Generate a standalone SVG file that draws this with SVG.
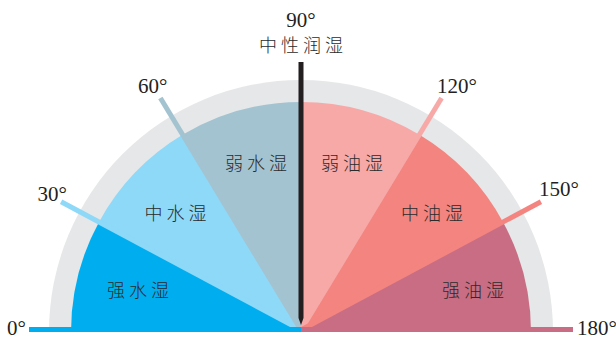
<svg xmlns="http://www.w3.org/2000/svg" width="616" height="341" viewBox="0 0 616 341">
<style>
.deg{font-family:"Liberation Serif","Times New Roman",serif;font-size:21px;fill:#231f20}
.cn{font-family:"Noto Sans CJK SC","Noto Sans",sans-serif;font-size:18px;font-weight:300;fill:#2b2b2b;letter-spacing:4px;text-anchor:middle}
.tick{stroke-width:5;fill:none;stroke-linecap:butt}
</style>
<rect width="616" height="341" fill="#ffffff"/>
<g id="ring">
<path d="M49,332 A252,252 0 0 1 553,332 Z" fill="#e6e7e8"/>
</g>
<g id="strong-water">
<path d="M301,332 L71,332 A230,230 0 0 1 98.9,222.2 Z" fill="#00aeef"/>
<text class="cn" x="140" y="297">强水湿</text>
</g>
<g id="mid-water">
<path d="M301,332 L98.9,222.2 A230,230 0 0 1 182.5,134.8 Z" fill="#8ed8f8"/>
<text class="cn" x="177.5" y="220">中水湿</text>
</g>
<g id="weak-water">
<path d="M301,332 L182.5,134.8 A230,230 0 0 1 301,102 Z" fill="#a3c3d1"/>
<text class="cn" x="258" y="170">弱水湿</text>
</g>
<g id="weak-oil">
<path d="M301,332 L301,102 A230,230 0 0 1 419.5,134.8 Z" fill="#f7a9a8"/>
<text class="cn" x="354" y="170">弱油湿</text>
</g>
<g id="mid-oil">
<path d="M301,332 L419.5,134.8 A230,230 0 0 1 503.1,222.2 Z" fill="#f3847f"/>
<text class="cn" x="434" y="220">中油湿</text>
</g>
<g id="strong-oil">
<path d="M301,332 L503.1,222.2 A230,230 0 0 1 531,332 Z" fill="#c86d83"/>
<text class="cn" x="475" y="297">强油湿</text>
</g>
<g id="connectors">
<line class="tick" x1="61.1" y1="201.7" x2="301" y2="330" stroke="#8ed8f8"/>
<line class="tick" x1="160.4" y1="98" x2="301" y2="330" stroke="#a3c3d1"/>
<line class="tick" x1="441.6" y1="98" x2="301" y2="330" stroke="#f7a9a8"/>
<line class="tick" x1="540.9" y1="201.7" x2="301" y2="330" stroke="#f3847f"/>
<rect x="29" y="327" width="272" height="5" fill="#00aeef"/>
<rect x="301" y="327" width="272" height="5" fill="#c86d83"/>
<path d="M298.5,62 L303.5,62 L303.5,318 L301,325 L298.5,318 Z" fill="#231f20"/>
</g>
<g id="labels">
<text class="deg" x="301" y="27" text-anchor="middle">90°</text>
<text class="cn" x="303" y="52">中性润湿</text>
<text class="deg" x="7" y="335">0°</text>
<text class="deg" x="577" y="335">180°</text>
<text class="deg" x="67" y="201" text-anchor="end">30°</text>
<text class="deg" x="138" y="93">60°</text>
<text class="deg" x="437" y="93">120°</text>
<text class="deg" x="539" y="196">150°</text>
</g>
</svg>
